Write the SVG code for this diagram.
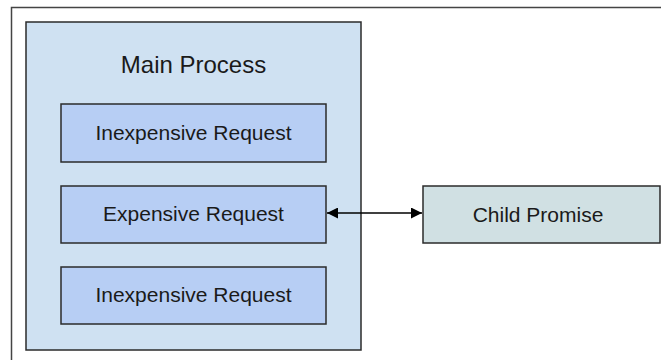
<svg xmlns="http://www.w3.org/2000/svg" width="661" height="360" viewBox="0 0 661 360">
<defs>
<style>
.t{font-family:"Liberation Sans",Arial,sans-serif;fill:#1a1a1a;text-anchor:middle}
.box{stroke:#2b2b2b;stroke-width:1.5}
.req{fill:#b7cef4}
</style>
<marker id="ah" viewBox="0 0 10 10" refX="10" refY="5" markerWidth="11" markerHeight="11" markerUnits="userSpaceOnUse" orient="auto-start-reverse">
<path d="M0,0 L10,5 L0,10 z" fill="#000"/>
</marker>
</defs>
<rect width="661" height="360" fill="#fff"/>
<path d="M11.5,360 V7.5 H661" fill="none" stroke="#444" stroke-width="1.5"/>
<g id="main">
<rect class="box" x="26" y="22" width="335" height="328" fill="#cfe1f2"/>
<text class="t" x="193.5" y="73" font-size="24">Main Process</text>
</g>
<g id="req1">
<rect class="box req" x="61" y="104" width="265" height="58"/>
<text class="t" x="193.5" y="140" font-size="21">Inexpensive Request</text>
</g>
<g id="req2">
<rect class="box req" x="61" y="186" width="265" height="57"/>
<text class="t" x="193.5" y="221" font-size="21">Expensive Request</text>
</g>
<g id="req3">
<rect class="box req" x="61" y="267" width="265" height="57"/>
<text class="t" x="193.5" y="302" font-size="21">Inexpensive Request</text>
</g>
<g id="child">
<rect class="box" x="423" y="186" width="237" height="57" fill="#d0e0e3"/>
<text class="t" x="538" y="222" font-size="21">Child Promise</text>
</g>
<g id="connectors">
<line x1="327" y1="213" x2="422" y2="213" stroke="#000" stroke-width="1.5" marker-start="url(#ah)" marker-end="url(#ah)"/>
</g>
</svg>
